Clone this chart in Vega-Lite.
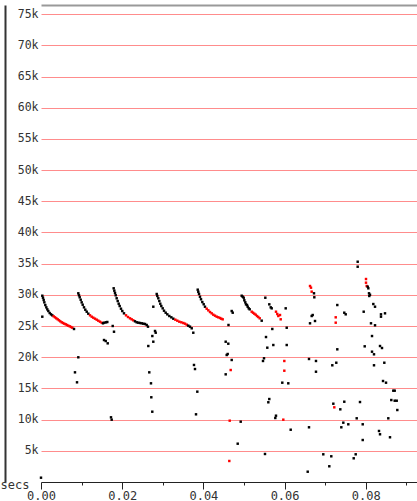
{
"$schema": "https://vega.github.io/schema/vega-lite/v6.json",
"width": 376, "height": 477,
"autosize": {"type": "none"},
"padding": {"left": 41, "top": 5, "right": 0, "bottom": 19},
"background": "white",
"config": {"view": {"stroke": null}},
"data": {"values": [
{"t":0.00032,"v":29860,"k":"normal"},{"t":0.00049,"v":29540,"k":"normal"},{"t":0.00066,"v":29180,"k":"normal"},{"t":0.00082,"v":28800,"k":"normal"},{"t":0.00106,"v":28370,"k":"normal"},{"t":0.00131,"v":28000,"k":"normal"},{"t":0.00155,"v":27680,"k":"normal"},{"t":0.0018,"v":27410,"k":"normal"},{"t":0.00214,"v":27090,"k":"normal"},{"t":0.00246,"v":26880,"k":"normal"},{"t":0.00278,"v":26720,"k":"normal"},
{"t":0.00312,"v":26560,"k":"flagged"},{"t":0.00345,"v":26400,"k":"flagged"},{"t":0.00377,"v":26240,"k":"flagged"},{"t":0.00411,"v":26080,"k":"flagged"},{"t":0.00443,"v":25920,"k":"flagged"},{"t":0.00475,"v":25760,"k":"flagged"},{"t":0.0051,"v":25600,"k":"flagged"},{"t":0.00542,"v":25490,"k":"flagged"},{"t":0.00574,"v":25380,"k":"flagged"},{"t":0.00608,"v":25280,"k":"flagged"},{"t":0.0064,"v":25170,"k":"flagged"},{"t":0.00672,"v":25060,"k":"flagged"},{"t":0.00707,"v":24960,"k":"flagged"},{"t":0.00739,"v":24850,"k":"flagged"},{"t":0.00771,"v":24740,"k":"flagged"},{"t":0.00813,"v":24530,"k":"normal"},
{"t":0.00032,"v":26500,"k":"normal"},{"t":0.0,"v":690,"k":"normal"},{"t":0.00919,"v":19990,"k":"normal"},{"t":0.00837,"v":17580,"k":"normal"},{"t":0.00887,"v":15980,"k":"normal"},{"t":0.01552,"v":22760,"k":"normal"},{"t":0.01594,"v":22600,"k":"normal"},{"t":0.01643,"v":22230,"k":"normal"},{"t":0.01766,"v":25010,"k":"normal"},{"t":0.01798,"v":24090,"k":"normal"},{"t":0.01724,"v":10370,"k":"normal"},{"t":0.01741,"v":9990,"k":"normal"},
{"t":0.00919,"v":30250,"k":"normal"},{"t":0.00936,"v":29930,"k":"normal"},{"t":0.00953,"v":29610,"k":"normal"},{"t":0.00978,"v":29220,"k":"normal"},{"t":0.01002,"v":28800,"k":"normal"},{"t":0.01027,"v":28420,"k":"normal"},{"t":0.01059,"v":28000,"k":"normal"},{"t":0.01091,"v":27620,"k":"normal"},{"t":0.01126,"v":27300,"k":"normal"},{"t":0.01165,"v":26980,"k":"normal"},
{"t":0.01207,"v":26720,"k":"flagged"},{"t":0.01249,"v":26500,"k":"flagged"},{"t":0.01288,"v":26340,"k":"flagged"},{"t":0.0133,"v":26180,"k":"flagged"},{"t":0.01372,"v":26020,"k":"flagged"},{"t":0.01411,"v":25860,"k":"flagged"},{"t":0.01453,"v":25700,"k":"flagged"},{"t":0.01495,"v":25540,"k":"flagged"},
{"t":0.01527,"v":25440,"k":"normal"},{"t":0.01559,"v":25540,"k":"normal"},{"t":0.01601,"v":25600,"k":"normal"},{"t":0.01633,"v":25650,"k":"normal"},
{"t":0.0179,"v":31050,"k":"normal"},{"t":0.01806,"v":30670,"k":"normal"},{"t":0.01823,"v":30300,"k":"normal"},{"t":0.0184,"v":29930,"k":"normal"},{"t":0.01864,"v":29450,"k":"normal"},{"t":0.01889,"v":29010,"k":"normal"},{"t":0.01914,"v":28580,"k":"normal"},{"t":0.01938,"v":28210,"k":"normal"},{"t":0.0197,"v":27780,"k":"normal"},{"t":0.02002,"v":27410,"k":"normal"},{"t":0.02044,"v":27040,"k":"normal"},
{"t":0.02094,"v":26720,"k":"flagged"},{"t":0.02143,"v":26450,"k":"flagged"},{"t":0.02192,"v":26240,"k":"flagged"},{"t":0.02233,"v":26080,"k":"flagged"},{"t":0.02273,"v":25920,"k":"flagged"},
{"t":0.02315,"v":25760,"k":"normal"},{"t":0.02357,"v":25600,"k":"normal"},{"t":0.02397,"v":25540,"k":"normal"},{"t":0.02438,"v":25490,"k":"normal"},{"t":0.0248,"v":25440,"k":"normal"},{"t":0.0252,"v":25380,"k":"normal"},{"t":0.02562,"v":25330,"k":"normal"},{"t":0.02603,"v":25170,"k":"normal"},{"t":0.02635,"v":24900,"k":"normal"},
{"t":0.02766,"v":28100,"k":"normal"},{"t":0.02808,"v":24210,"k":"normal"},{"t":0.02825,"v":23930,"k":"normal"},{"t":0.02742,"v":23400,"k":"normal"},{"t":0.02766,"v":22490,"k":"normal"},{"t":0.02643,"v":21800,"k":"normal"},{"t":0.02667,"v":17580,"k":"normal"},{"t":0.02709,"v":15820,"k":"normal"},{"t":0.02717,"v":13580,"k":"normal"},{"t":0.02741,"v":11270,"k":"normal"},
{"t":0.0285,"v":30140,"k":"normal"},{"t":0.02865,"v":29820,"k":"normal"},{"t":0.02889,"v":29450,"k":"normal"},{"t":0.02914,"v":29010,"k":"normal"},{"t":0.02938,"v":28580,"k":"normal"},{"t":0.02963,"v":28210,"k":"normal"},{"t":0.02997,"v":27840,"k":"normal"},{"t":0.0303,"v":27460,"k":"normal"},{"t":0.03071,"v":27140,"k":"normal"},{"t":0.03111,"v":26880,"k":"normal"},{"t":0.0316,"v":26610,"k":"normal"},{"t":0.0321,"v":26400,"k":"normal"},{"t":0.03259,"v":26180,"k":"normal"},
{"t":0.03308,"v":26020,"k":"flagged"},{"t":0.03357,"v":25860,"k":"flagged"},{"t":0.03406,"v":25700,"k":"flagged"},{"t":0.03456,"v":25600,"k":"flagged"},{"t":0.03505,"v":25490,"k":"flagged"},{"t":0.03547,"v":25380,"k":"flagged"},{"t":0.03589,"v":25220,"k":"flagged"},
{"t":0.03628,"v":25060,"k":"normal"},{"t":0.0367,"v":24900,"k":"normal"},{"t":0.03712,"v":24640,"k":"normal"},{"t":0.03751,"v":23930,"k":"normal"},
{"t":0.03768,"v":18760,"k":"normal"},{"t":0.03793,"v":18110,"k":"normal"},{"t":0.0385,"v":14480,"k":"normal"},{"t":0.03818,"v":10850,"k":"normal"},
{"t":0.0386,"v":30830,"k":"normal"},{"t":0.03874,"v":30500,"k":"normal"},{"t":0.03892,"v":30140,"k":"normal"},{"t":0.03916,"v":29700,"k":"normal"},{"t":0.03941,"v":29290,"k":"normal"},{"t":0.03973,"v":28850,"k":"normal"},{"t":0.04007,"v":28490,"k":"normal"},{"t":0.04039,"v":28100,"k":"normal"},
{"t":0.04081,"v":27780,"k":"flagged"},{"t":0.04121,"v":27520,"k":"flagged"},{"t":0.04163,"v":27250,"k":"flagged"},{"t":0.04204,"v":27040,"k":"flagged"},{"t":0.04244,"v":26820,"k":"flagged"},{"t":0.04286,"v":26660,"k":"flagged"},{"t":0.04328,"v":26500,"k":"flagged"},{"t":0.04367,"v":26400,"k":"flagged"},{"t":0.04409,"v":26290,"k":"flagged"},{"t":0.04441,"v":26180,"k":"flagged"},{"t":0.04475,"v":26080,"k":"flagged"},
{"t":0.04618,"v":25170,"k":"normal"},{"t":0.04697,"v":27410,"k":"normal"},{"t":0.04722,"v":27140,"k":"normal"},{"t":0.04549,"v":22490,"k":"normal"},{"t":0.04613,"v":22170,"k":"normal"},{"t":0.04574,"v":20360,"k":"normal"},{"t":0.04598,"v":20520,"k":"normal"},{"t":0.04697,"v":19560,"k":"normal"},{"t":0.04549,"v":17260,"k":"normal"},
{"t":0.04672,"v":17950,"k":"flagged"},{"t":0.04648,"v":9830,"k":"flagged"},{"t":0.04638,"v":3370,"k":"flagged"},{"t":0.04919,"v":9670,"k":"normal"},{"t":0.04845,"v":6140,"k":"normal"},
{"t":0.04943,"v":29860,"k":"normal"},{"t":0.04968,"v":29700,"k":"normal"},{"t":0.04993,"v":29540,"k":"normal"},{"t":0.05008,"v":29130,"k":"normal"},{"t":0.05032,"v":28800,"k":"normal"},{"t":0.05049,"v":28480,"k":"normal"},{"t":0.05074,"v":28370,"k":"normal"},{"t":0.05091,"v":28100,"k":"normal"},{"t":0.05116,"v":27840,"k":"normal"},{"t":0.0514,"v":27680,"k":"normal"},
{"t":0.0519,"v":27300,"k":"flagged"},{"t":0.05222,"v":27140,"k":"flagged"},{"t":0.05254,"v":26980,"k":"flagged"},{"t":0.05288,"v":26820,"k":"flagged"},{"t":0.0532,"v":26610,"k":"flagged"},{"t":0.05352,"v":26450,"k":"flagged"},{"t":0.05387,"v":26240,"k":"flagged"},{"t":0.05436,"v":25860,"k":"normal"},
{"t":0.05525,"v":29540,"k":"normal"},{"t":0.05623,"v":28480,"k":"normal"},{"t":0.05658,"v":28000,"k":"normal"},{"t":0.05682,"v":27840,"k":"normal"},
{"t":0.05788,"v":27300,"k":"flagged"},{"t":0.0582,"v":26930,"k":"flagged"},{"t":0.05845,"v":26610,"k":"flagged"},{"t":0.05887,"v":26770,"k":"flagged"},{"t":0.05904,"v":26080,"k":"flagged"},
{"t":0.06027,"v":27840,"k":"normal"},{"t":0.06052,"v":24730,"k":"normal"},{"t":0.05697,"v":24530,"k":"normal"},{"t":0.05542,"v":23240,"k":"normal"},{"t":0.05574,"v":21530,"k":"normal"},{"t":0.05722,"v":21960,"k":"normal"},{"t":0.06052,"v":21960,"k":"normal"},{"t":0.05493,"v":19830,"k":"normal"},{"t":0.05468,"v":19400,"k":"normal"},
{"t":0.05993,"v":19400,"k":"flagged"},{"t":0.05993,"v":17840,"k":"flagged"},
{"t":0.05943,"v":15920,"k":"normal"},{"t":0.06091,"v":15820,"k":"normal"},{"t":0.05623,"v":13300,"k":"normal"},{"t":0.05599,"v":12780,"k":"normal"},{"t":0.05788,"v":10630,"k":"normal"},{"t":0.05771,"v":10260,"k":"normal"},
{"t":0.05968,"v":9990,"k":"flagged"},{"t":0.0615,"v":8380,"k":"normal"},{"t":0.05517,"v":4490,"k":"normal"},
{"t":0.06626,"v":31420,"k":"flagged"},{"t":0.0665,"v":31150,"k":"flagged"},{"t":0.06667,"v":30510,"k":"flagged"},
{"t":0.06724,"v":30250,"k":"normal"},{"t":0.06732,"v":29610,"k":"normal"},{"t":0.06692,"v":26770,"k":"normal"},{"t":0.06667,"v":26610,"k":"normal"},{"t":0.06626,"v":25440,"k":"normal"},{"t":0.06749,"v":25810,"k":"normal"},{"t":0.06601,"v":19720,"k":"normal"},{"t":0.06773,"v":19400,"k":"normal"},{"t":0.06773,"v":17680,"k":"normal"},{"t":0.06601,"v":8770,"k":"normal"},{"t":0.06953,"v":4440,"k":"normal"},{"t":0.06569,"v":1650,"k":"normal"},
{"t":0.078,"v":35310,"k":"normal"},{"t":0.078,"v":34510,"k":"normal"},
{"t":0.08005,"v":32540,"k":"flagged"},{"t":0.08005,"v":31950,"k":"flagged"},{"t":0.08022,"v":31420,"k":"flagged"},
{"t":0.08047,"v":31310,"k":"normal"},{"t":0.08062,"v":31050,"k":"normal"},{"t":0.08079,"v":30250,"k":"normal"},{"t":0.08086,"v":29820,"k":"normal"},{"t":0.08103,"v":30020,"k":"normal"},
{"t":0.07298,"v":28370,"k":"normal"},{"t":0.0747,"v":27140,"k":"normal"},{"t":0.07505,"v":26880,"k":"normal"},
{"t":0.07259,"v":26400,"k":"flagged"},{"t":0.07259,"v":25540,"k":"flagged"},
{"t":0.07948,"v":27300,"k":"normal"},{"t":0.08185,"v":28530,"k":"normal"},{"t":0.08227,"v":28100,"k":"normal"},{"t":0.08374,"v":26880,"k":"normal"},{"t":0.08374,"v":26500,"k":"normal"},{"t":0.08473,"v":27040,"k":"normal"},{"t":0.08128,"v":25440,"k":"normal"},{"t":0.08227,"v":25120,"k":"normal"},{"t":0.08153,"v":23400,"k":"normal"},
{"t":0.07298,"v":21270,"k":"normal"},{"t":0.07973,"v":21750,"k":"normal"},{"t":0.0835,"v":21800,"k":"normal"},{"t":0.08399,"v":21480,"k":"normal"},{"t":0.08153,"v":20890,"k":"normal"},{"t":0.08202,"v":20470,"k":"normal"},{"t":0.07273,"v":19120,"k":"normal"},{"t":0.07175,"v":18710,"k":"normal"},{"t":0.08202,"v":18710,"k":"normal"},{"t":0.08456,"v":19120,"k":"normal"},
{"t":0.08424,"v":16190,"k":"normal"},{"t":0.08498,"v":15920,"k":"normal"},{"t":0.08677,"v":14640,"k":"normal"},{"t":0.08712,"v":14640,"k":"normal"},{"t":0.08628,"v":13140,"k":"normal"},{"t":0.08712,"v":13030,"k":"normal"},{"t":0.08761,"v":13030,"k":"normal"},{"t":0.08776,"v":11540,"k":"normal"},
{"t":0.072,"v":12550,"k":"normal"},{"t":0.0747,"v":12870,"k":"normal"},{"t":0.07857,"v":12820,"k":"normal"},{"t":0.07224,"v":11970,"k":"flagged"},{"t":0.07372,"v":11650,"k":"normal"},{"t":0.07776,"v":10210,"k":"normal"},{"t":0.08554,"v":10210,"k":"normal"},
{"t":0.07446,"v":9510,"k":"normal"},{"t":0.07569,"v":9250,"k":"normal"},{"t":0.07397,"v":8770,"k":"normal"},{"t":0.07924,"v":9250,"k":"normal"},{"t":0.08325,"v":8180,"k":"normal"},{"t":0.0835,"v":7650,"k":"normal"},{"t":0.08596,"v":7170,"k":"normal"},{"t":0.07924,"v":6730,"k":"normal"},
{"t":0.0715,"v":4120,"k":"normal"},{"t":0.07751,"v":4440,"k":"normal"},{"t":0.07702,"v":3800,"k":"normal"},{"t":0.07101,"v":2520,"k":"normal"}
]},
"layer": [
{"mark": {"type": "square", "size": 6, "opacity": 1},
 "encoding": {
  "x": {"field": "t", "type": "quantitative",
        "scale": {"domain": [0, 0.09261], "nice": false, "zero": false},
        "axis": {"values": [0,0.01,0.02,0.03,0.04,0.05,0.06,0.07,0.08,0.09],
                 "labelExpr": "round(datum.value*100)%2==0 ? format(datum.value,'.2f') : ''",
                 "grid": false, "domainColor": "#222", "domainWidth": 1, "tickColor": "#222",
                 "tickSize": {"condition": {"test": "round(datum.value*100)%2==0", "value": 7}, "value": 3},
                 "labelPadding": 1, "labelFont": "DejaVu Sans Mono", "labelFontSize": 12, "labelColor": "#333",
                 "labelBound": false, "labelOverlap": false, "labelFlush": false,
                 "title": "secs", "titleX": -41, "titleY": 6, "titleAlign": "left", "titleAnchor": "start",
                 "titleBaseline": "alphabetic", "titleFont": "DejaVu Sans Mono", "titleFontSize": 12,
                 "titleFontWeight": "normal", "titleColor": "#333"}},
  "y": {"field": "v", "type": "quantitative",
        "scale": {"domain": [0, 76467], "nice": false},
        "axis": {"values": [5000,10000,15000,20000,25000,30000,35000,40000,45000,50000,55000,60000,65000,70000,75000],
                 "labelExpr": "datum.value/1000 + 'k'", "title": null, "offset": 36,
                 "domainColor": "#333", "domainWidth": 2, "ticks": false, "tickSize": 0,
                 "labelPadding": -33, "labelAlign": "right", "labelFont": "DejaVu Sans Mono", "labelFontSize": 11.5,
                 "labelColor": "#333", "labelBound": false, "labelOverlap": false,
                 "grid": true, "gridColor": "#ff8c8c", "gridWidth": 1}},
  "color": {"field": "k", "type": "nominal",
            "scale": {"domain": ["normal", "flagged"], "range": ["#000000", "#ff0000"]}, "legend": null}
 }},
{"mark": {"type": "square", "opacity": 0},
 "encoding": {
  "x": {"field": "t", "type": "quantitative",
        "axis": {"orient": "top", "domainColor": "#999", "domainWidth": 2, "ticks": false, "labels": false, "grid": false, "title": null}}
 }}
],
"resolve": {"axis": {"x": "independent"}}
}
